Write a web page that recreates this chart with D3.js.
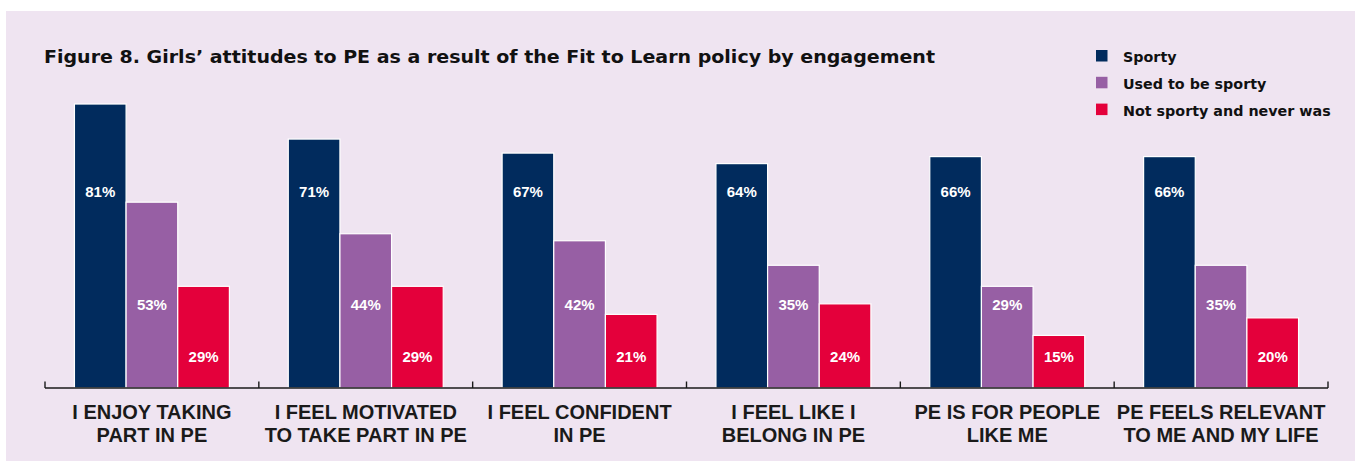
<!DOCTYPE html>
<html>
<head>
<meta charset="utf-8">
<script src="https://cdn.jsdelivr.net/npm/d3@7"></script>
<style>
  html, body { margin: 0; padding: 0; background: #ffffff; }
  svg { display: block; }
  text { font-family: "Liberation Sans", Arial, sans-serif; font-weight: bold; }
  .wide { font-family: "DejaVu Sans", "Liberation Sans", sans-serif; }
</style>
</head>
<body>
<svg id="chart" width="1355" height="461"></svg>
<script>
// Survey categories (two-line labels) and per-group percentages
const categories = [
  "I ENJOY TAKING|PART IN PE",
  "I FEEL MOTIVATED|TO TAKE PART IN PE",
  "I FEEL CONFIDENT|IN PE",
  "I FEEL LIKE I|BELONG IN PE",
  "PE IS FOR PEOPLE|LIKE ME",
  "PE FEELS RELEVANT|TO ME AND MY LIFE"
];
const seriesNames = ["Sporty", "Used to be sporty", "Not sporty and never was"];
const sporty      = [81, 71, 67, 64, 66, 66];
const usedToBe    = [53, 44, 42, 35, 29, 35];
const notSporty   = [29, 29, 21, 24, 15, 20];
const seriesValues = [sporty, usedToBe, notSporty];
const colors = ["#012b5d", "#975fa4", "#e4003b"];
const title = "Figure 8. Girls\u2019 attitudes to PE as a result of the Fit to Learn policy by engagement";

// Layout
const W = 1355, H = 461;
const axisLeft = 45, axisRight = 1328, baseY = 388, plotTop = 37.4;
// baseline height above the axis for each series' value label
const labelLift = [191, 78, 26.5];

const svg = d3.select("#chart");

// Panel background
svg.append("rect")
  .attr("x", 6).attr("y", 11)
  .attr("width", W - 6).attr("height", H - 11)
  .attr("fill", "#efe4f1");

const x0 = d3.scaleBand().domain(categories).range([axisLeft, axisRight]).paddingInner(0).paddingOuter(0);
const x1 = d3.scaleBand().domain(d3.range(seriesNames.length)).range([0, x0.bandwidth()]).paddingInner(0).paddingOuter(0.57);
const y = d3.scaleLinear().domain([0, 100]).range([baseY, plotTop]);

// Bars
const groups = svg.append("g").selectAll("g")
  .data(categories)
  .join("g")
  .attr("transform", d => `translate(${x0(d)},0)`);

groups.selectAll("rect")
  .data((d, i) => seriesValues.map((vals, s) => ({ s, v: vals[i] })))
  .join("rect")
  .attr("x", d => x1(d.s))
  .attr("y", d => y(d.v))
  .attr("width", x1.bandwidth())
  .attr("height", d => y(0) - y(d.v))
  .attr("fill", d => colors[d.s])
  .attr("stroke", "#ffffff")
  .attr("stroke-width", 1.2);

// Value labels
groups.selectAll("text.val")
  .data((d, i) => seriesValues.map((vals, s) => ({ s, v: vals[i] })))
  .join("text")
  .attr("class", "val")
  .attr("x", d => x1(d.s) + x1.bandwidth() / 2)
  .attr("y", d => baseY - labelLift[d.s])
  .attr("text-anchor", "middle")
  .attr("fill", "#ffffff")
  .attr("font-size", 15)
  .text(d => d.v + "%");

// Axis baseline with upward ticks at the band boundaries
const axisG = svg.append("g");
axisG.append("line")
  .attr("x1", axisLeft).attr("x2", axisRight)
  .attr("y1", baseY).attr("y2", baseY)
  .attr("stroke", "#1a1a1a").attr("stroke-width", 1.6);
const tickXs = categories.map(c => x0(c)).concat([x0(categories[categories.length - 1]) + x0.bandwidth()]);
axisG.selectAll("line.tick")
  .data(tickXs)
  .join("line")
  .attr("class", "tick")
  .attr("x1", d => d).attr("x2", d => d)
  .attr("y1", baseY - 6.5).attr("y2", baseY)
  .attr("stroke", "#1a1a1a").attr("stroke-width", 1.4);

// Category labels
const catText = svg.append("g").selectAll("text")
  .data(categories)
  .join("text")
  .attr("x", d => x0(d) + x0.bandwidth() / 2)
  .attr("y", 419)
  .attr("text-anchor", "middle")
  .attr("font-size", 20)
  .attr("fill", "#1a1a1a");
catText.each(function(d) {
  const lines = d.split("|");
  const t = d3.select(this);
  lines.forEach((ln, k) => {
    t.append("tspan")
      .attr("x", x0(d) + x0.bandwidth() / 2)
      .attr("dy", k === 0 ? 0 : 22.5)
      .text(ln);
  });
});

// Title (wide geometric face approximated by stretching to its set width)
svg.append("text")
  .attr("class", "wide")
  .attr("x", 44).attr("y", 63)
  .attr("font-size", 18.5)
  .attr("fill", "#111111")
  .attr("textLength", 891)
  .attr("lengthAdjust", "spacingAndGlyphs")
  .text(title);

// Legend
const legend = svg.append("g").attr("transform", "translate(1096,50)");
const rows = legend.selectAll("g")
  .data(seriesNames)
  .join("g")
  .attr("transform", (d, i) => `translate(0,${i * 26.8})`);
rows.append("rect")
  .attr("width", 11.5).attr("height", 11.5)
  .attr("fill", (d, i) => colors[i]);
rows.append("text")
  .attr("class", "wide")
  .attr("x", 27).attr("y", 12)
  .attr("font-size", 14.3)
  .attr("fill", "#111111")
  .text(d => d);
</script>
</body>
</html>
